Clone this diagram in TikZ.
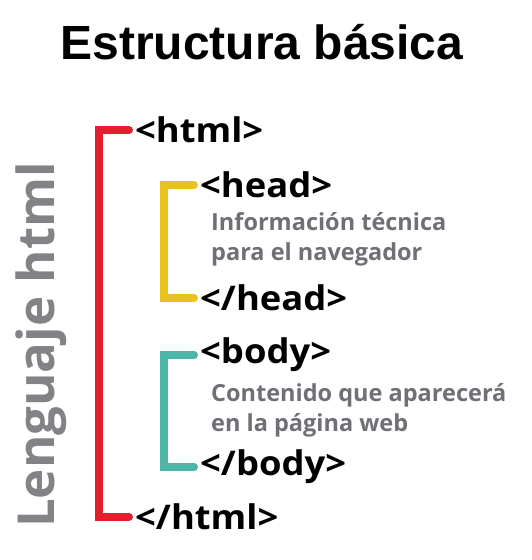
\documentclass[tikz,border=0pt]{standalone}
\usepackage{fontspec}
\setmainfont{Liberation Sans}
\newfontfamily\osans{Open Sans}
\definecolor{brred}{HTML}{E31E2D}
\definecolor{bryel}{HTML}{E8C31E}
\definecolor{brteal}{HTML}{4DB6A9}
\definecolor{descgray}{HTML}{6F6F76}
\definecolor{sidegray}{HTML}{838387}
\tikzset{
  tag/.style={anchor=west, inner sep=0pt, xscale=1.07, font=\osans\bfseries\fontsize{34}{40}\selectfont, text=black},
  desc/.style={anchor=west, inner sep=0pt, align=left, font=\osans\bfseries\fontsize{23.5}{30}\selectfont, text=descgray},
  bracket/.style={line width=8pt, line cap=round, line join=miter},
}
\begin{document}
\begin{tikzpicture}[x=1pt,y=-1pt]
\useasboundingbox (0,0) rectangle (531,560);
\node[font=\bfseries\fontsize{48}{56}\selectfont, inner sep=0pt] (title) at (262,42) {Estructura básica};
\node[rotate=90, inner sep=0pt, font=\osans\bfseries\fontsize{51}{56}\selectfont, text=sidegray] (side) at (41,345) {Lenguaje html};

\node[tag] (ho) at (135,130) {<html>};
\node[tag] (hdo) at (200,185) {<head>};
\node[desc] (hdd) at (211,239) {Información técnica\\para el navegador};
\node[tag] (hdc) at (200,298) {</head>};
\node[tag] (bo) at (200,355) {<body>};
\node[desc] (bd) at (211,410) {Contenido que aparecerá\\en la página web};
\node[tag] (bc) at (200,467) {</body>};
\node[tag] (hc) at (135,517) {</html>};

\draw[bracket, brred] ([xshift=-6pt]ho.west) -- ++(-30,0) |- ([xshift=-6pt]hc.west);
\draw[bracket, bryel] ([xshift=-6pt]hdo.west) -- ++(-30,0) |- ([xshift=-6pt]hdc.west);
\draw[bracket, brteal] ([xshift=-6pt]bo.west) -- ++(-30,0) |- ([xshift=-6pt]bc.west);
\end{tikzpicture}
\end{document}
